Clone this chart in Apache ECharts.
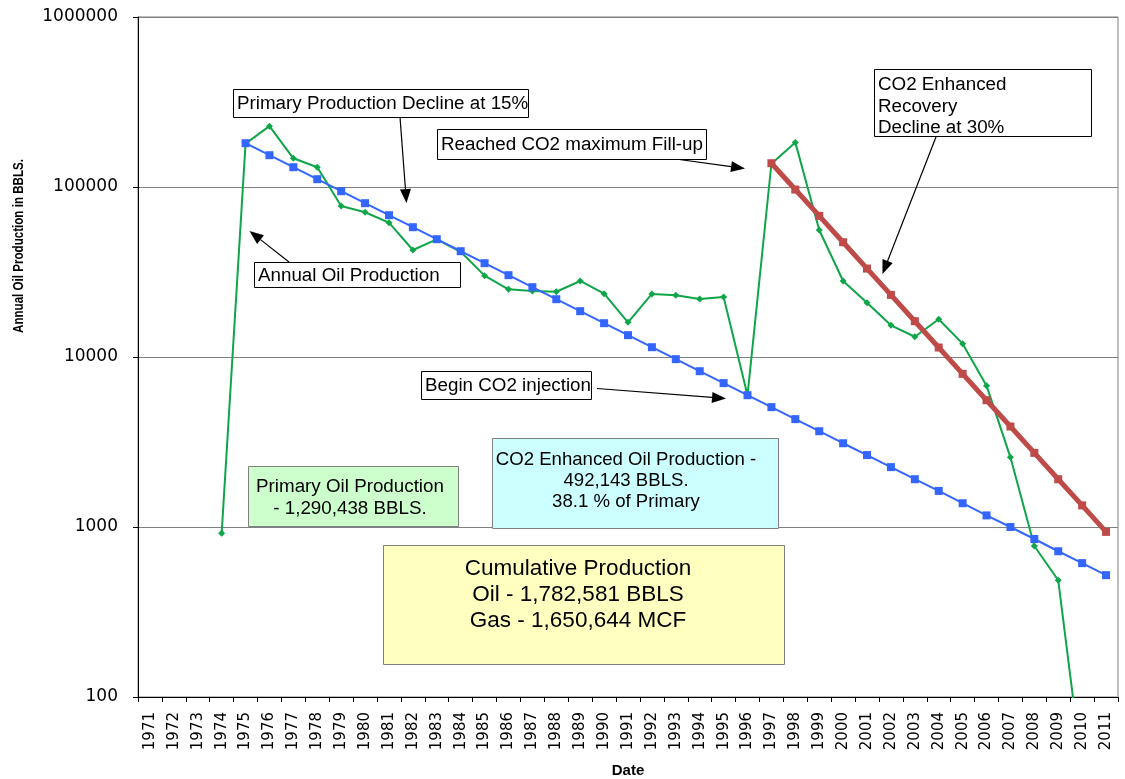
<!DOCTYPE html>
<html>
<head>
<meta charset="utf-8">
<script src="https://cdn.jsdelivr.net/npm/echarts@6/dist/echarts.min.js"></script>
<style>
html,body{margin:0;padding:0;background:#fff;}
#chart{width:1125px;height:779px;}
</style>
</head>
<body>
<div id="chart"></div>
<script>
const years = ['1971','1972','1973','1974','1975','1976','1977','1978','1979','1980',
  '1981','1982','1983','1984','1985','1986','1987','1988','1989','1990',
  '1991','1992','1993','1994','1995','1996','1997','1998','1999','2000',
  '2001','2002','2003','2004','2005','2006','2007','2008','2009','2010','2011'];

// Annual Oil Production (green)
const annualOil = [null,null,null,920,180000,228000,147500,130600,77300,71000,
  61700,42600,49200,41600,30100,25000,24450,24200,28000,23560,
  16000,23500,23070,21950,22530,5950,137000,183000,55850,28000,
  20860,15360,13160,16660,11980,6780,2570,773,486,37,null];

// Primary Production Decline at 15% (blue)
const primaryDecline = [null,null,null,null,181000,153850,130770,111160,94480,80310,
  68260,58020,49320,41920,35630,30290,25750,21880,18600,15810,
  13440,11420,9710,8250,7020,5960,5070,4310,3660,3110,
  2650,2250,1910,1630,1380,1170,1000,850,720,613,521];

// CO2 Enhanced Recovery Decline at 30% (red)
const co2Decline = [null,null,null,null,null,null,null,null,null,null,
  null,null,null,null,null,null,null,null,null,null,
  null,null,null,null,null,null,138000,96600,67620,47330,
  33130,23190,16240,11370,7960,5570,3900,2730,1910,1340,936];

const yTicks = [100,1000,10000,100000,1000000];

const chart = echarts.init(document.getElementById('chart'), null, {renderer:'canvas'});

const TXT = '"Liberation Sans", Arial, sans-serif';
const AX = '"DejaVu Sans", sans-serif';

function box(x,y,w,h,fill,stroke){
  return {type:'rect', z:100, shape:{x:x,y:y,width:w,height:h},
    style:{fill:fill, stroke:stroke, lineWidth:1}};
}
function txt(x,y,t,size,align){
  return {type:'text', z:101, x:x, y:y,
    style:{text:t, font:'normal ' + size + 'px ' + TXT, fill:'#000',
      textAlign:align||'left', textVerticalAlign:'middle'}};
}
function arrow(x1,y1,x2,y2){
  const a = Math.atan2(y2-y1, x2-x1);
  const L = 14, W = 5.5;
  const bx = x2 - L*Math.cos(a), by = y2 - L*Math.sin(a);
  const px = -Math.sin(a)*W, py = Math.cos(a)*W;
  return [
    {type:'line', z:100, shape:{x1:x1,y1:y1,x2:bx,y2:by}, style:{stroke:'#000', lineWidth:1.2}},
    {type:'polygon', z:100, shape:{points:[[x2,y2],[bx+px,by+py],[bx-px,by-py]]}, style:{fill:'#000'}}
  ];
}

const graphics = [].concat(
  arrow(400,117,406.5,203),
  arrow(289,262,249.5,231),
  arrow(672,158.5,745,168.5),
  arrow(936,137,882.5,274),
  arrow(597,388.5,726,398.5),
  [
    box(233.5,89.5,295,28,'#fff','#000'),
    txt(237,104,'Primary Production Decline at 15%',18.8),
    box(437.5,129.5,269,30,'#fff','#000'),
    txt(441,145,'Reached CO2 maximum Fill-up',18.8),
    box(874.5,69.5,217,67,'#fff','#000'),
    txt(878,85,'CO2 Enhanced',18.8),
    txt(878,106.5,'Recovery',18.8),
    txt(878,127.5,'Decline at 30%',18.8),
    box(254.5,262.5,206,25,'#fff','#000'),
    txt(258,275.5,'Annual Oil Production',18.8),
    box(421.5,371.5,170,28,'#fff','#000'),
    txt(425,386,'Begin CO2 injection',18.8),
    box(248.5,466.5,210,60,'#ccffcc','#808080'),
    txt(350,487,'Primary Oil Production',18.8,'center'),
    txt(350,508.5,'- 1,290,438 BBLS.',18.8,'center'),
    box(492.5,438.5,286,90,'#ccffff','#808080'),
    txt(626,460,'CO2 Enhanced Oil Production -',18.6,'center'),
    txt(626,481,'492,143 BBLS.',18.6,'center'),
    txt(626,502,'38.1 % of Primary',18.6,'center'),
    box(383.5,545.5,401,119,'#ffffc0','#808080'),
    txt(578,569,'Cumulative Production',22.5,'center'),
    txt(578,595,'Oil - 1,782,581 BBLS',22.5,'center'),
    txt(578,620.5,'Gas - 1,650,644 MCF',22.5,'center'),
    {type:'text', z:101, x:19, y:246, rotation:Math.PI/2, scaleX:0.8,
      style:{text:'Annual Oil Production in BBLS.',
        font:'bold 14.5px ' + TXT,
        fill:'#000', textAlign:'center', textVerticalAlign:'middle'}}
  ]
);

chart.setOption({
  animation:false,
  backgroundColor:'#fff',
  grid:{left:138, right:7, top:17, bottom:82, containLabel:false, outerBoundsMode:'none',
    show:true, borderColor:'#808080', borderWidth:1},
  xAxis:{
    type:'category', data:years, boundaryGap:true,
    name:'Date', nameLocation:'middle', nameGap:66,
    nameTextStyle:{fontFamily:TXT, fontWeight:'bold', fontSize:15, color:'#000'},
    axisLine:{lineStyle:{color:'#000', width:1}},
    axisTick:{show:true, interval:0, length:5, inside:false, lineStyle:{color:'#000'}},
    axisLabel:{interval:0, rotate:90, margin:15, fontFamily:AX, fontSize:15, color:'#000'},
    splitLine:{show:false}
  },
  yAxis:{
    type:'log', logBase:10, min:100, max:1000000,
    axisLine:{show:true, lineStyle:{color:'#000', width:1}},
    axisTick:{show:true, length:5, lineStyle:{color:'#000'}},
    axisLabel:{margin:20, fontFamily:AX, fontSize:17, color:'#000',
      formatter:function(v){ const r = Math.round(v); return yTicks.indexOf(r) >= 0 ? String(r) : ''; }},
    splitLine:{show:true, lineStyle:{color:'#808080', width:1}},
    minorTick:{show:false}
  },
  series:[
    {name:'Annual Oil Production', type:'line', data:annualOil, clip:true,
      symbol:'diamond', symbolSize:7, z:2,
      lineStyle:{color:'#0fa64a', width:2}, itemStyle:{color:'#0fa64a'}},
    {name:'Primary Production Decline at 15%', type:'line', data:primaryDecline, clip:true,
      symbol:'rect', symbolSize:8, z:3,
      lineStyle:{color:'#3366ff', width:2}, itemStyle:{color:'#3366ff'}},
    {name:'CO2 Enhanced Recovery Decline at 30%', type:'line', data:co2Decline, clip:true,
      symbol:'rect', symbolSize:8, z:4,
      lineStyle:{color:'#be4b48', width:5}, itemStyle:{color:'#be4b48'}}
  ],
  graphic:graphics
});
</script>
</body>
</html>
